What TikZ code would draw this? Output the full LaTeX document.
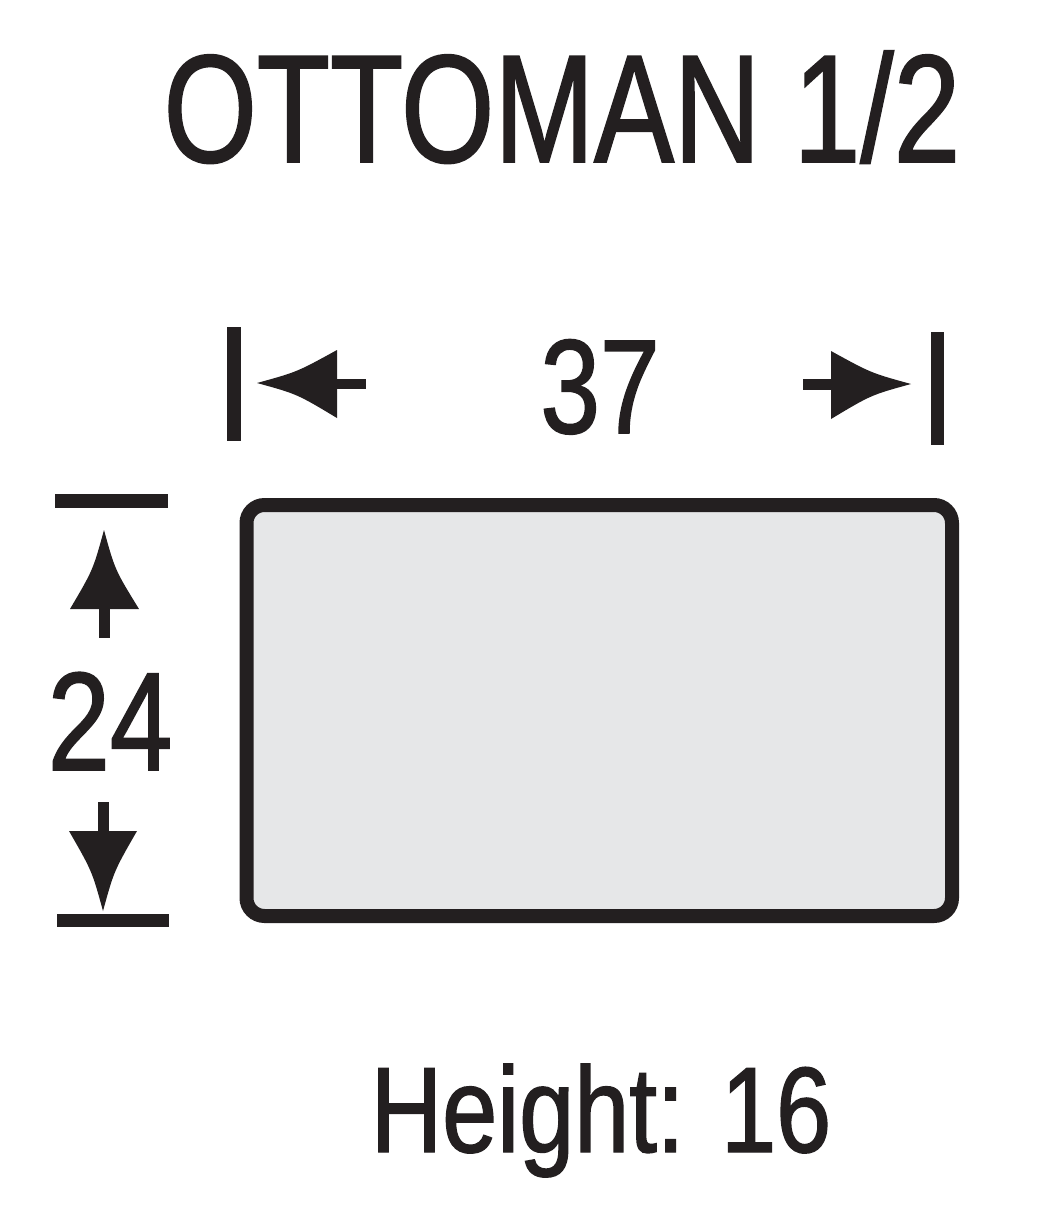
\documentclass[tikz,border=0pt]{standalone}
\usepackage{fontspec}
\newfontfamily\cond[FakeStretch=0.8,FakeBold=1.2]{Liberation Sans}
\newfontfamily\condtitle[FakeStretch=0.78,FakeBold=1.2]{Liberation Sans}
\newfontfamily\condwide[FakeStretch=0.815,FakeBold=1.2]{Liberation Sans}
\definecolor{ink}{HTML}{231F20}
\definecolor{boxfill}{HTML}{E6E7E8}
\begin{document}
\begin{tikzpicture}[x=1pt,y=-1pt,
  lbl/.style={inner sep=0pt, anchor=base, text=ink},
  solid ink/.style={fill=ink, draw=none}]
\useasboundingbox (0,0) rectangle (1046,1216);
\fill[white] (0,0) rectangle (1046,1216);

% title and labels
\node[lbl, font=\condtitle\fontsize{153.6}{160}\selectfont] (title) at (562,162) {OTTOMAN 1/2};
\node[lbl, font=\cond\fontsize{134}{140}\selectfont] (width) at (600,433) {37};
\node[lbl, font=\cond\fontsize{140}{146}\selectfont] (depth) at (110,770) {24};
\node[lbl, font=\condwide\fontsize{121.5}{128}\selectfont] (height) at (601,1152) {Height: 16};

% ottoman top view
\draw[draw=ink, fill=boxfill, line width=14, rounded corners=18] (246.5,505) rectangle (952,916);

% horizontal dimension: left
\fill[solid ink] (227,327) rectangle (241,441);
\fill[solid ink] (257,383) .. controls (297,372) .. (337,350) -- (337,418) .. controls (297,394) .. (257,383) -- cycle;
\fill[solid ink] (336,379) rectangle (366,389);
% horizontal dimension: right
\fill[solid ink] (931,332) rectangle (944,445);
\fill[solid ink] (911,384) .. controls (871,373) .. (831,351) -- (831,419) .. controls (871,395) .. (911,384) -- cycle;
\fill[solid ink] (803,379) rectangle (832,390);

% vertical dimension: top
\fill[solid ink] (55,494) rectangle (168,508);
\fill[solid ink] (104,530) .. controls (93,570) .. (70,609) -- (139,609) .. controls (115,570) .. (104,530) -- cycle;
\fill[solid ink] (99,608) rectangle (110,638);
% vertical dimension: bottom
\fill[solid ink] (57,914) rectangle (169,927);
\fill[solid ink] (103,911) .. controls (92,871) .. (69,831) -- (137,831) .. controls (114,871) .. (103,911) -- cycle;
\fill[solid ink] (98,802) rectangle (109,832);
\end{tikzpicture}
\end{document}
